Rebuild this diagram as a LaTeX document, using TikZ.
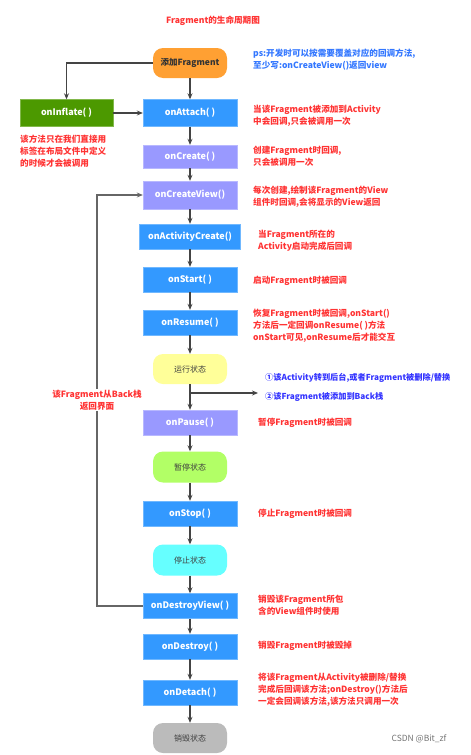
\documentclass[tikz,border=0pt]{standalone}
\usepackage{fontspec}
\setmainfont{Noto Sans CJK SC}
\usetikzlibrary{arrows.meta}
\definecolor{boxblue}{HTML}{3399FF}
\definecolor{boxpurple}{HTML}{9999FF}
\definecolor{boxgreen}{HTML}{4C9900}
\definecolor{boxorange}{HTML}{FFA033}
\definecolor{stateyellow}{HTML}{FFFF99}
\definecolor{stategreen}{HTML}{B2FF66}
\definecolor{statecyan}{HTML}{66FFFF}
\definecolor{stategray}{HTML}{BBBBBB}
\definecolor{notered}{HTML}{FF3333}
\definecolor{noteblue}{HTML}{3377FF}
\definecolor{linegray}{HTML}{444444}
\tikzset{
  method/.style={draw=#1!70!white, fill=#1, text=white, font=\fontsize{9}{10}\selectfont\bfseries,
    minimum width=94pt, minimum height=25pt, inner sep=0pt},
  state/.style={fill=#1, text=black!75, font=\fontsize{8}{10}\selectfont,
    rounded corners=10pt, minimum width=74pt, minimum height=30pt, inner sep=0pt},
  note/.style={anchor=west, align=left, text=notered, font=\fontsize{8.6}{12}\selectfont\bfseries, inner sep=0pt},
  flow/.style={draw=linegray, line width=1.1pt, -{Stealth[length=6pt,width=5pt]}},
}
\begin{document}
\begin{tikzpicture}[x=1pt, y=-1pt]
  \useasboundingbox (0,0) rectangle (471,755);
  % title
  \node[note, anchor=center] (title) at (213,21) {Fragment的生命周期图};
  % entry
  \node[state=boxorange, text=black!80, font=\fontsize{8.5}{10}\selectfont\bfseries] (add) at (190,63) {添加Fragment};
  \node[note, text=noteblue] (ps) at (253,60) {ps:开发时可以按需要覆盖对应的回调方法,\\至少写:onCreateView()返回view};
  \node[method=boxgreen, minimum width=93pt, minimum height=27pt] (inflate) at (66.5,113) {onInflate( )};
  \node[note] (inflatenote) at (20,151.5) {该方法只在我们直接用\\标签在布局文件中定义\\的时候才会被调用};
  % methods and states
  \node[method=boxblue, minimum height=27pt] (attach) at (190,113) {onAttach( )};
  \node[method=boxpurple, minimum height=23pt] (create) at (190,156.5) {onCreate( )};
  \node[method=boxpurple, minimum height=28pt] (createview) at (190,195) {onCreateView()};
  \node[method=boxblue, minimum width=101pt] (actcreate) at (190,236.5) {onActivityCreate()};
  \node[method=boxblue] (start) at (190,279.5) {onStart( )};
  \node[method=boxblue] (resume) at (190,322.5) {onResume( )};
  \node[state=stateyellow] (running) at (190,369) {运行状态};
  \node[method=boxpurple] (pause) at (190,422.5) {onPause( )};
  \node[state=stategreen, minimum height=31pt] (paused) at (190,467) {暂停状态};
  \node[method=boxblue] (stop) at (190,513.5) {onStop( )};
  \node[state=statecyan, minimum height=31pt] (stopped) at (190,560) {停止状态};
  \node[method=boxblue] (destroyview) at (190,606) {onDestroyView( )};
  \node[method=boxblue] (destroy) at (190,646.5) {onDestroy( )};
  \node[method=boxblue] (detach) at (190,692.5) {onDetach( )};
  \node[state=stategray] (destroyed) at (190,738) {销毁状态};
  % notes
  \node[note] (attachnote) at (253,116) {当该Fragment被添加到Activity\\中会回调,只会被调用一次};
  \node[note] (createnote) at (253,156) {创建Fragment时回调,\\只会被调用一次};
  \node[note] (createviewnote) at (253,197) {每次创建,绘制该Fragment的View\\组件时回调,会将显示的View返回};
  \node[note] (actcreatenote) at (258,241) {当Fragment所在的\\Activity启动完成后回调};
  \node[note] (startnote) at (253,281) {启动Fragment时被回调};
  \node[note] (resumenote) at (253,326) {恢复Fragment时被回调,onStart()\\方法后一定回调onResume( )方法\\onStart可见,onResume后才能交互};
  \node[note] (pausenote) at (258,423) {暂停Fragment时被回调};
  \node[note] (stopnote) at (258,514) {停止Fragment时被回调};
  \node[note] (destroyviewnote) at (258,605) {销毁该Fragment所包\\含的View组件时使用};
  \node[note] (destroynote) at (258,646) {销毁Fragment时被毁掉};
  \node[note] (detachnote) at (258,690) {将该Fragment从Activity被删除/替换\\完成后回调该方法;onDestroy()方法后\\一定会回调该方法,该方法只调用一次};
  \node[note, text=blue!80!white, font=\fontsize{8.2}{19}\selectfont\bfseries] (leavenote) at (265,387.5) {①该Activity转到后台,或者Fragment被删除/替换\\②该Fragment被添加到Back栈};
  \node[text=black!55, font=\fontsize{8.5}{10}\selectfont, inner sep=0pt] (mark) at (419,739) {CSDN @Bit\_zf};
  % connectors
  \draw[flow] (add) -- (attach);
  \draw[flow] (add.west) -| (inflate.north);
  \draw[flow] (inflate) -- (attach);
  \draw[flow] (attach) -- (create);
  \draw[flow] (create) -- (createview);
  \draw[flow] (createview) -- (actcreate);
  \draw[flow] (actcreate) -- (start);
  \draw[flow] (start) -- (resume);
  \draw[flow] (resume) -- (running);
  \draw[flow] (running) -- (pause);
  \coordinate (split) at (190,393);
  \coordinate (leave) at (258,393);
  \draw[flow] (split) -- (leave);
  \draw[flow] (pause) -- (paused);
  \draw[flow] (paused) -- (stop);
  \draw[flow] (stop) -- (stopped);
  \draw[flow] (stopped) -- (destroyview);
  \draw[flow] (destroyview) -- (destroy);
  \draw[flow] (destroy) -- (detach);
  \draw[flow] (detach) -- (destroyed);
  \coordinate (backbottom) at (97,606);
  \coordinate (backtop) at (97,195);
  \draw[flow, draw=black!60] (destroyview.west) -- (backbottom) -- (backtop) -- (createview.west);
  \node[note, anchor=center, align=center, fill=white, inner sep=1pt] (backnote) at (97,400) {该Fragment从Back栈\\返回界面};
\end{tikzpicture}
\end{document}
